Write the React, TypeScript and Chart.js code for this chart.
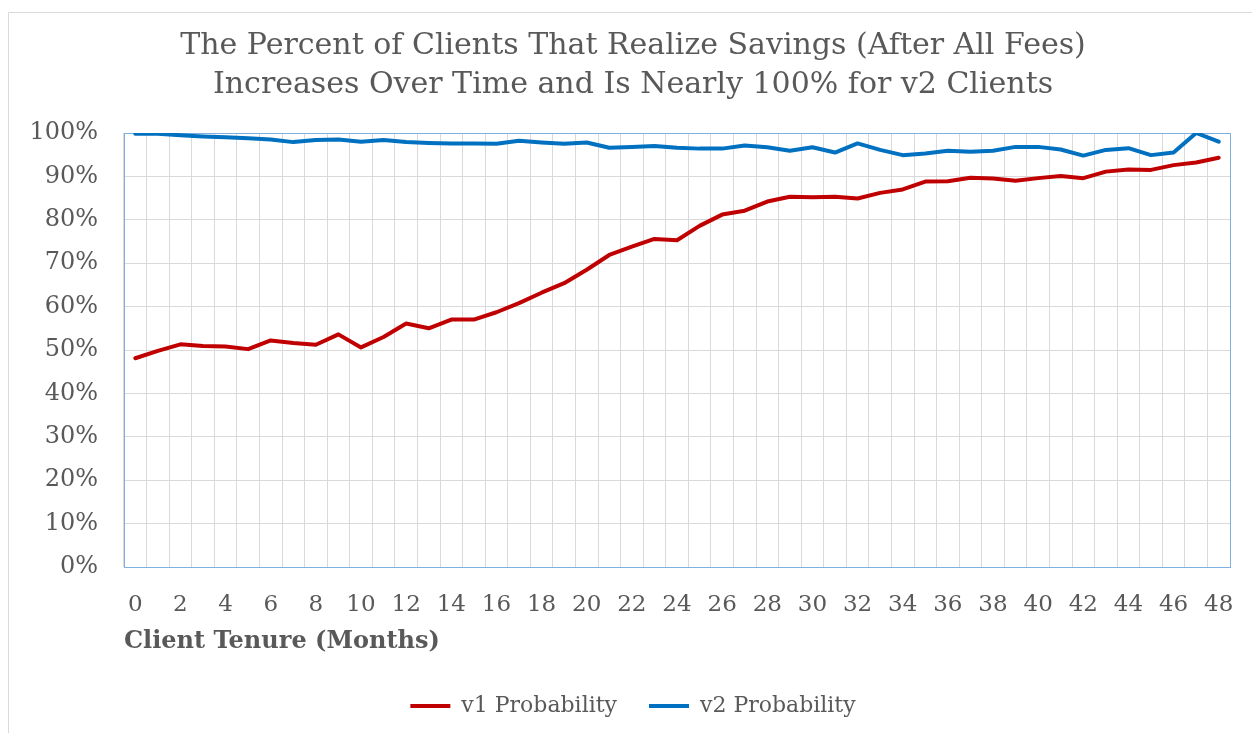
import { useEffect, useRef } from 'react';
import { Chart, registerables } from 'chart.js';

Chart.register(...registerables);

const TITLE_LINES = [
  'The Percent of Clients That Realize Savings (After All Fees)',
  'Increases Over Time and Is Nearly 100% for v2 Clients',
];
const X_TITLE = 'Client Tenure (Months)';

const MONTHS = [
  '0', '1', '2', '3', '4', '5', '6', '7', '8', '9',
  '10', '11', '12', '13', '14', '15', '16', '17', '18', '19',
  '20', '21', '22', '23', '24', '25', '26', '27', '28', '29',
  '30', '31', '32', '33', '34', '35', '36', '37', '38', '39',
  '40', '41', '42', '43', '44', '45', '46', '47', '48',
];

const V1_LABEL = 'v1 Probability';
const V1 = [
  48.1, 49.8, 51.3, 50.9, 50.8, 50.2, 52.2, 51.6, 51.2, 53.6,
  50.6, 53.0, 56.1, 55.0, 57.0, 57.0, 58.7, 60.8, 63.2, 65.4,
  68.5, 71.9, 73.8, 75.6, 75.3, 78.6, 81.2, 82.1, 84.2, 85.3,
  85.2, 85.3, 84.9, 86.2, 87.0, 88.8, 88.9, 89.7, 89.5, 89.0,
  89.6, 90.1, 89.6, 91.1, 91.6, 91.5, 92.6, 93.2, 94.3,
];

const V2_LABEL = 'v2 Probability';
const V2 = [
  99.8, 99.8, 99.5, 99.2, 99.0, 98.8, 98.5, 97.9, 98.4, 98.5,
  98.0, 98.4, 97.9, 97.7, 97.6, 97.6, 97.5, 98.2, 97.8, 97.5,
  97.8, 96.6, 96.8, 97.0, 96.6, 96.4, 96.4, 97.1, 96.7, 95.9,
  96.7, 95.5, 97.6, 96.1, 94.9, 95.3, 95.9, 95.7, 95.9, 96.8,
  96.8, 96.2, 94.8, 96.1, 96.5, 94.9, 95.5, 100.0, 98.0,
];

const Y_MIN = 0;
const Y_MAX = 100;
const Y_STEP = 5;
const Y_LABEL_STEP = 10;

const RED = '#c00000';
const BLUE = '#0070c0';
const TEXT = '#595959';
const FONT = '"DejaVu Serif", "Liberation Serif", serif';

const framePlugin = {
  id: 'frame',
  beforeDraw(chart: any) {
    const { ctx, width, height } = chart;
    ctx.save();
    ctx.fillStyle = '#ffffff';
    ctx.fillRect(0, 0, width, height);
    ctx.strokeStyle = '#d9d9d9';
    ctx.lineWidth = 1;
    ctx.beginPath();
    ctx.moveTo(8.5, height);
    ctx.lineTo(8.5, 12.5);
    ctx.lineTo(width, 12.5);
    ctx.stroke();
    ctx.restore();
  },
  beforeDatasetsDraw(chart: any) {
    const { ctx, chartArea } = chart;
    ctx.save();
    ctx.strokeStyle = '#7fb0e0';
    ctx.lineWidth = 1;
    ctx.strokeRect(
      Math.round(chartArea.left) + 0.5,
      Math.round(chartArea.top) + 0.5,
      Math.round(chartArea.right - chartArea.left),
      Math.round(chartArea.bottom - chartArea.top)
    );
    ctx.restore();
  },
};

export default function App() {
  const ref = useRef<HTMLCanvasElement | null>(null);

  useEffect(() => {
    if (!ref.current) return;
    const chart = new Chart(ref.current, {
      type: 'line',
      data: {
        labels: MONTHS,
        datasets: [
          {
            label: V1_LABEL,
            data: V1,
            borderColor: RED,
            backgroundColor: RED,
            borderWidth: 4,
            pointRadius: 0,
            tension: 0,
            borderJoinStyle: 'round',
            borderCapStyle: 'round',
          },
          {
            label: V2_LABEL,
            data: V2,
            borderColor: BLUE,
            backgroundColor: BLUE,
            borderWidth: 4,
            pointRadius: 0,
            tension: 0,
            borderJoinStyle: 'round',
            borderCapStyle: 'round',
          },
        ],
      },
      options: {
        responsive: false,
        animation: false,
        devicePixelRatio: 1,
        layout: { padding: { left: 14, right: 0, top: 0, bottom: 6 } },
        plugins: {
          title: {
            display: true,
            text: TITLE_LINES,
            color: TEXT,
            font: { family: FONT, size: 30, weight: 'normal', lineHeight: 1.3 },
            padding: { top: 27, bottom: 28 },
          },
          legend: {
            display: true,
            position: 'bottom',
            labels: {
              color: TEXT,
              font: { family: FONT, size: 22 },
              usePointStyle: true,
              pointStyle: 'line',
              pointStyleWidth: 40,
              boxHeight: 22,
              padding: 32,
            },
          },
          tooltip: { enabled: false },
        },
        scales: {
          x: {
            type: 'category',
            offset: true,
            grid: { display: true, offset: true, color: '#d9d9d9', drawTicks: false },
            border: { display: false },
            ticks: {
              autoSkip: false,
              maxRotation: 0,
              minRotation: 0,
              color: TEXT,
              font: { family: FONT, size: 23 },
              padding: 24,
              callback: (_v: any, i: number) => (i % 2 === 0 ? MONTHS[i] : ''),
            },
            title: {
              display: true,
              text: X_TITLE,
              align: 'start',
              color: TEXT,
              font: { family: FONT, size: 24, weight: 'bold', lineHeight: 1.2 },
              padding: { top: 5, bottom: 7 },
            },
            afterFit: (s: any) => {
              s.height = 96;
              s.paddingLeft = 0;
              s.paddingRight = 22;
            },
          },
          y: {
            min: Y_MIN,
            max: Y_MAX,
            grid: {
              color: (c: any) =>
                c.tick && c.tick.value % Y_LABEL_STEP === 0 ? '#d9d9d9' : '#f2f2f2',
              drawTicks: false,
            },
            border: { display: false },
            ticks: {
              stepSize: Y_STEP,
              color: TEXT,
              font: { family: FONT, size: 24 },
              padding: 26,
              callback: (v: any) => (Number(v) % Y_LABEL_STEP === 0 ? `${v}%` : ''),
            },
            afterFit: (s: any) => {
              s.width = 110;
            },
          },
        },
      },
      plugins: [framePlugin],
    });
    return () => chart.destroy();
  }, []);

  return (
    <div style={{ position: 'fixed', left: 0, top: 0, width: 1252, height: 733, background: '#fff' }}>
      <canvas ref={ref} width={1252} height={733} style={{ display: 'block' }} />
    </div>
  );
}
